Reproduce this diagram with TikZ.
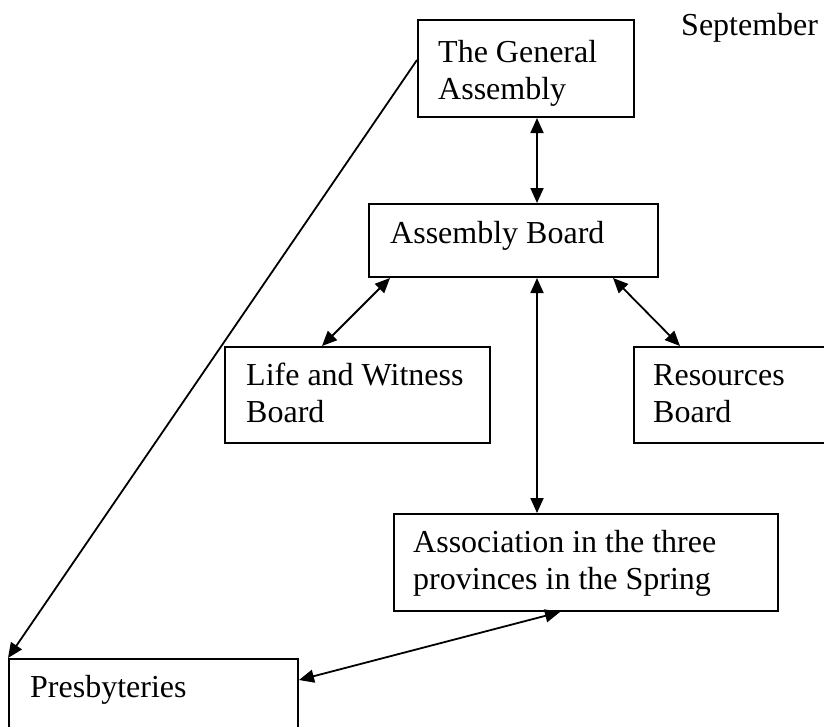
\documentclass[tikz,border=0pt]{standalone}
\usepackage{fontspec}
\setmainfont{Liberation Serif}
\usetikzlibrary{arrows.meta,calc}
\begin{document}
\begin{tikzpicture}[x=1pt,y=-1pt,
  box/.style={draw,line width=2pt,rectangle,inner sep=0pt,anchor=north west},
  txt/.style={anchor=base west,inner sep=0pt,font=\fontsize{32}{37}\selectfont},
  con/.style={line width=1.8pt,{Triangle[length=15pt,width=13pt]}-{Triangle[length=15pt,width=13pt]}},
  one/.style={line width=1.8pt,-{Triangle[length=15pt,width=13pt]}}]
\clip (0,0) rectangle (824,726);
\useasboundingbox (0,0) rectangle (824,726);
% boxes
\node[box,minimum width=216pt,minimum height=97pt] (ga) at (417,19) {};
\node[box,minimum width=289pt,minimum height=73pt] (ab) at (368,203) {};
\node[box,minimum width=265pt,minimum height=96pt] (lw) at (224,346) {};
\node[box,minimum width=240pt,minimum height=96pt] (rb) at (633,346) {};
\node[box,minimum width=384pt,minimum height=97pt] (as) at (393,513) {};
\node[box,minimum width=289pt,minimum height=110pt] (pr) at (8,658) {};
% texts
\node[txt] (sep) at (681,35) {September};
\node[txt] (ga1) at (438,62) {The General};
\node[txt] (ga2) at (438,99) {Assembly};
\node[txt] (ab1) at (390,243) {Assembly Board};
\node[txt] (lw1) at (246,385) {Life and Witness};
\node[txt] (lw2) at (246,422) {Board};
\node[txt] (rb1) at (653,385) {Resources};
\node[txt] (rb2) at (653,422) {Board};
\node[txt] (as1) at (413,552) {Association in the three};
\node[txt] (as2) at (413,589) {provinces in the Spring};
\node[txt] (pr1) at (30,697) {Presbyteries};
% connectors
\draw[con] ($(ga.south west)+(120,0)$) -- ($(ab.north west)+(169,0)$);
\draw[con] ($(ab.south west)+(22,0)$) -- ($(lw.north west)+(98,0)$);
\draw[con] ($(ab.south west)+(245,0)$) -- ($(rb.north west)+(47,0)$);
\draw[con] ($(ab.south west)+(169,0)$) -- ($(as.north west)+(144,0)$);
\draw[con] ($(as.south west)+(167,0)$) -- ($(pr.north east)+(0,22)$);
\draw[one] ($(ga.north west)+(0,41)$) -- (pr.north west);
\end{tikzpicture}
\end{document}
